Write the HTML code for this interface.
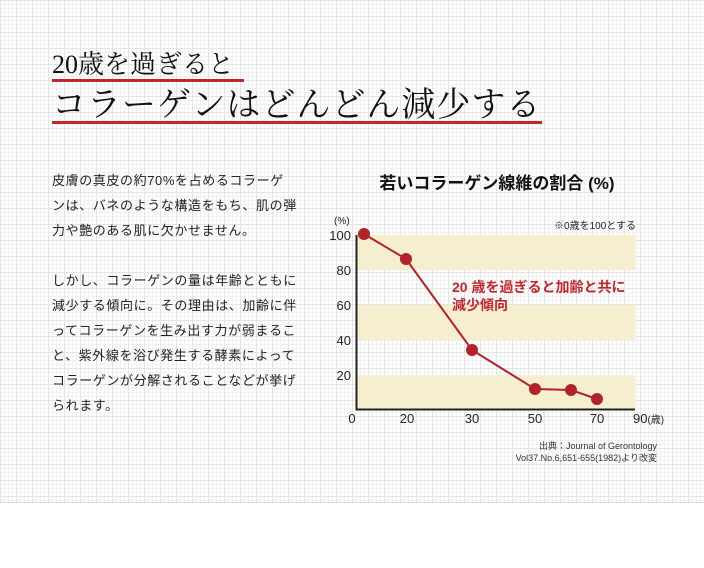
<!DOCTYPE html>
<html><head><meta charset="utf-8"><style>
body{margin:0;width:704px;height:568px;background:#fff;position:relative;overflow:hidden;font-family:"Liberation Sans","Noto Sans CJK JP",sans-serif;}
#bg{position:absolute;left:0;top:0;width:704px;height:502px;background-color:#fff;
background-image:linear-gradient(#e4e4e4 1px,transparent 1px),linear-gradient(90deg,#e4e4e4 1px,transparent 1px),linear-gradient(#f1f1f1 1px,transparent 1px),linear-gradient(90deg,#f1f1f1 1px,transparent 1px);
background-size:16px 16px,16px 16px,4px 4px,4px 4px;border-bottom:1px solid #ddd;}
.h{position:absolute;font-family:"Liberation Serif","Noto Serif CJK SC",serif;color:#111;white-space:nowrap;}
.p{position:absolute;left:52px;font-size:13px;line-height:25px;letter-spacing:0.6px;color:#222;white-space:nowrap;font-family:"Liberation Sans","Noto Sans CJK JP",sans-serif;}
</style></head><body>
<div id="bg"></div>
<div class="h" style="left:52px;top:50px;font-size:26px;line-height:30px;">20歳を過ぎると</div>
<div style="position:absolute;left:52px;top:79px;width:192px;height:3px;background:#c0272d"></div>
<div class="h" style="left:52px;top:86px;font-size:34px;line-height:40px;letter-spacing:1px">コラーゲンはどんどん減少する</div>
<div style="position:absolute;left:52px;top:121px;width:490px;height:3px;background:#c0272d"></div>
<div class="p" style="top:168px">皮膚の真皮の約70%を占めるコラーゲ<br>ンは、バネのような構造をもち、肌の弾<br>力や艶のある肌に欠かせません。<br><br>しかし、コラーゲンの量は年齢とともに<br>減少する傾向に。その理由は、加齢に伴<br>ってコラーゲンを生み出す力が弱まるこ<br>と、紫外線を浴び発生する酵素によって<br>コラーゲンが分解されることなどが挙げ<br>られます。</div>
<svg style="position:absolute;left:0;top:0" width="704" height="568" font-family="Liberation Sans,Noto Sans CJK JP,sans-serif">
<text x="497" y="189" font-size="17" font-weight="bold" text-anchor="middle" fill="#111">若いコラーゲン線維の割合 (%)</text>
<rect x="357" y="235" width="278" height="35" fill="#f6efcf"/>
<rect x="357" y="305" width="278" height="35" fill="#f6efcf"/>
<rect x="357" y="375" width="278" height="34" fill="#f6efcf"/>
<path d="M356.5 235V409.5H635" stroke="#222" stroke-width="2" fill="none"/>
<g font-size="13" fill="#222" text-anchor="end">
<text x="351" y="240">100</text><text x="351" y="275">80</text><text x="351" y="310">60</text><text x="351" y="345">40</text><text x="351" y="380">20</text></g>
<text x="334" y="224" font-size="10" fill="#222">(%)</text>
<text x="636" y="229" font-size="10" fill="#222" text-anchor="end">※0歳を100とする</text>
<g font-size="13" fill="#222" text-anchor="middle">
<text x="352" y="423">0</text><text x="407" y="423">20</text><text x="472" y="423">30</text><text x="535" y="423">50</text><text x="597" y="423">70</text></g>
<text x="633" y="423" font-size="13" fill="#222">90<tspan font-size="10">(歳)</tspan></text>
<polyline points="364,234 406,259 472,350 535,389 571,390 597,399" fill="none" stroke="#b3222b" stroke-width="2"/>
<g fill="#b3222b"><circle cx="364" cy="234" r="6"/><circle cx="406" cy="259" r="6"/><circle cx="472" cy="350" r="6"/><circle cx="535" cy="389" r="6"/><circle cx="571" cy="390" r="6"/><circle cx="597" cy="399" r="6"/></g>
<text x="452" y="292" font-size="14" font-weight="bold" fill="#c0272d">20 歳を過ぎると加齢と共に</text>
<text x="452" y="310" font-size="14" font-weight="bold" fill="#c0272d">減少傾向</text>
<text x="657" y="449" font-size="9" fill="#333" text-anchor="end">出典：Journal of Gerontology</text>
<text x="657" y="461" font-size="9" fill="#333" text-anchor="end">Vol37.No.6,651-655(1982)より改変</text>
</svg>
</body></html>
